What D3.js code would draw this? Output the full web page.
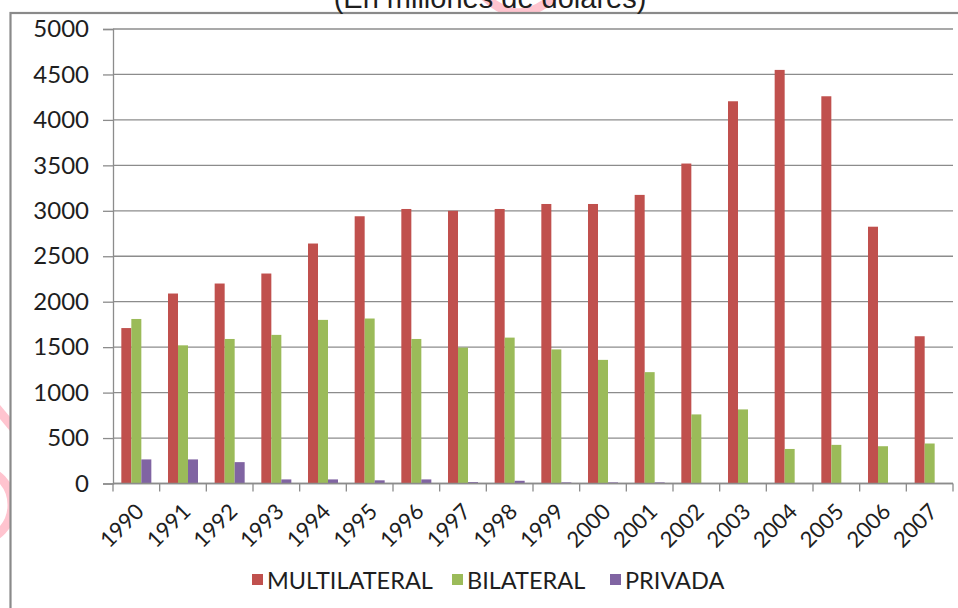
<!DOCTYPE html>
<html>
<head>
<meta charset="utf-8">
<script src="https://cdn.jsdelivr.net/npm/d3@7"></script>
<style>
  html, body { margin: 0; padding: 0; background: #fff; }
  svg { display: block; }
  text { font-family: Lato, "Open Sans", sans-serif; fill: #1e1e1e; }
</style>
</head>
<body>
<svg id="chart" width="958" height="608"></svg>
<script>
// Deuda externa por acreedor, 1990-2007 (millones de dólares)
const years = ["1990","1991","1992","1993","1994","1995","1996","1997","1998",
               "1999","2000","2001","2002","2003","2004","2005","2006","2007"];
const multilateral = [1710, 2090, 2200, 2310, 2640, 2940, 3020, 3000, 3020,
                      3075, 3075, 3175, 3520, 4205, 4550, 4260, 2825, 1620];
const bilateral    = [1810, 1520, 1590, 1635, 1800, 1815, 1590, 1495, 1605,
                      1475, 1360, 1225, 760, 815, 380, 425, 410, 440];
const privada      = [265, 265, 235, 45, 45, 35, 45, 15, 30,
                      12, 12, 12, 0, 0, 0, 0, 0, 0];
const seriesNames  = ["MULTILATERAL", "BILATERAL", "PRIVADA"];
const seriesColors = ["#C0504D", "#9BBB59", "#8064A2"];
const yTicks = [0, 500, 1000, 1500, 2000, 2500, 3000, 3500, 4000, 4500, 5000];
const title = "(En millones de dólares)";

const svg = d3.select("#chart");
const W = 958, H = 608;
const plot = { left: 113, right: 953, top: 29, bottom: 483.5 };

// faint pink stamp sitting behind the chart frame
const stamp = svg.append("g").attr("fill", "none").attr("stroke", "#ffc4cf").attr("stroke-width", 9);
stamp.append("ellipse").attr("cx", -22).attr("cy", 505).attr("rx", 34).attr("ry", 36);
stamp.append("path").attr("d", "M-10,400 L30,448");
stamp.append("path").attr("d", "M470,-20 Q515,40 560,-10");

// chart frame (white, open to the right and bottom)
svg.append("rect").attr("x", 10.5).attr("y", 13).attr("width", W + 20).attr("height", H + 20)
  .attr("fill", "#fff").attr("stroke", "#8a8a8a").attr("stroke-width", 2.2);

// title, partly above the frame
svg.append("text").attr("x", 490).attr("y", 8).attr("text-anchor", "middle")
  .style("font-family", "'Liberation Sans', Arial, sans-serif")
  .style("font-size", "29px").text(title);

const y = d3.scaleLinear().domain([0, 5000]).range([plot.bottom, plot.top]);
const x0 = d3.scaleBand().domain(years).range([plot.left, plot.right]).padding(0);
const barW = 10;
const x1 = d3.scaleBand().domain(seriesNames)
  .range([(x0.bandwidth() - 3 * barW) / 2, (x0.bandwidth() + 3 * barW) / 2]).padding(0);

// horizontal grid
svg.append("g").selectAll("line").data(yTicks).join("line")
  .attr("x1", plot.left).attr("x2", plot.right)
  .attr("y1", d => y(d)).attr("y2", d => y(d))
  .attr("stroke", "#8c8c8c").attr("stroke-width", 1.3);

// y axis
const yAxis = svg.append("g").attr("transform", `translate(${plot.left},0)`)
  .call(d3.axisLeft(y).tickValues(yTicks).tickSize(10).tickPadding(14).tickFormat(d3.format("d")));
yAxis.select(".domain").attr("stroke", "#8c8c8c").attr("stroke-width", 1.3);
yAxis.selectAll(".tick line").attr("stroke", "#8c8c8c").attr("stroke-width", 1.3);
yAxis.selectAll("text").style("font-size", "24px").attr("fill", "#1e1e1e")
  .style("font-family", "Lato, sans-serif");

// bars
const data = years.map((yr, i) => ({ yr, vals: [multilateral[i], bilateral[i], privada[i]] }));
const groups = svg.append("g").selectAll("g").data(data).join("g")
  .attr("transform", d => `translate(${x0(d.yr)},0)`);
groups.selectAll("rect").data(d => d.vals.map((v, k) => ({ v, k }))).join("rect")
  .attr("x", d => x1(seriesNames[d.k]))
  .attr("width", x1.bandwidth())
  .attr("y", d => y(d.v))
  .attr("height", d => y(0) - y(d.v))
  .attr("fill", d => seriesColors[d.k]);

// x axis line and category boundary ticks
svg.append("line").attr("x1", plot.left).attr("x2", plot.right)
  .attr("y1", plot.bottom).attr("y2", plot.bottom)
  .attr("stroke", "#8c8c8c").attr("stroke-width", 1.3);
const bounds = years.map(d => x0(d)).concat([plot.right]);
svg.append("g").selectAll("line").data(bounds).join("line")
  .attr("x1", d => d).attr("x2", d => d)
  .attr("y1", plot.bottom).attr("y2", plot.bottom + 8)
  .attr("stroke", "#8c8c8c").attr("stroke-width", 1.3);

// rotated year labels
svg.append("g").selectAll("text").data(years).join("text")
  .attr("transform", d => `translate(${x0(d) + x0.bandwidth() / 2 + 9},513) rotate(-45)`)
  .attr("text-anchor", "end")
  .style("font-size", "22px")
  .text(d => d);

// legend
const legendX = [252, 452, 610];
const leg = svg.append("g").selectAll("g").data(seriesNames).join("g")
  .attr("transform", (d, i) => `translate(${legendX[i]},574)`);
leg.append("rect").attr("width", 11).attr("height", 11).attr("fill", (d, i) => seriesColors[i]);
leg.append("text").attr("x", 15).attr("y", 14.5).style("font-size", "23.5px").text(d => d);
</script>
</body>
</html>
